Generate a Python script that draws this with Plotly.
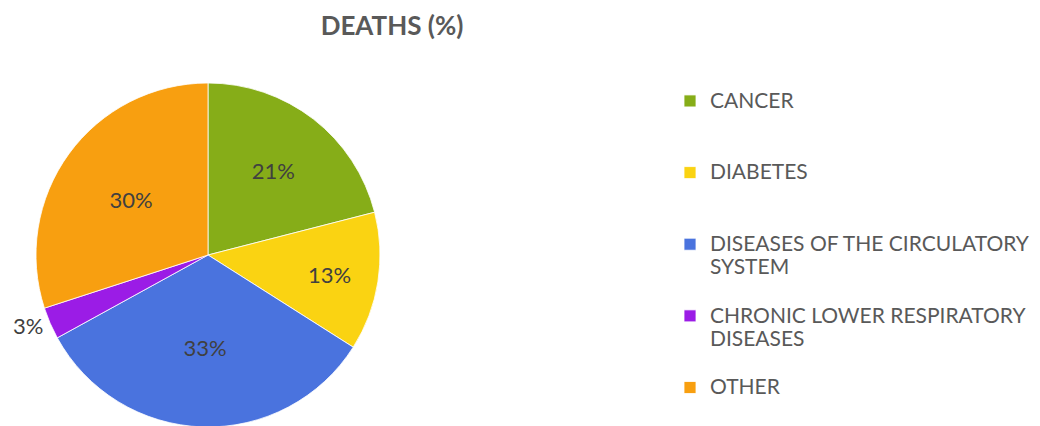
import plotly.graph_objects as go

categories = ["CANCER", "DIABETES", "DISEASES OF THE CIRCULATORY SYSTEM",
              "CHRONIC LOWER RESPIRATORY DISEASES", "OTHER"]
legend_labels = ["CANCER", "DIABETES", "DISEASES OF THE CIRCULATORY<br>SYSTEM",
                 "CHRONIC LOWER RESPIRATORY<br>DISEASES", "OTHER"]
values = [21, 13, 33, 3, 30]
colors = ["#86ad18", "#fad312", "#4a73de", "#9b1ce6", "#f89f10"]
text_positions = ["inside", "inside", "inside", "outside", "inside"]


def pad(lbl, last):
    n = lbl.count("<br>") + 1
    body = "<span style='font-size:21px'>" + lbl + "</span>"
    return body if last else body + "<br> " * (3 - n)


fig = go.Figure(go.Pie(
    labels=[pad(l, i == len(legend_labels) - 1) for i, l in enumerate(legend_labels)],
    values=values,
    sort=False,
    direction="clockwise",
    rotation=0,
    marker=dict(colors=colors, line=dict(color="white", width=0.8)),
    texttemplate="%{percent:.0%}",
    textposition=text_positions,
    insidetextorientation="horizontal",
    textfont=dict(family="Lato", size=22, color="#404040"),
    domain=dict(x=[28 / 1040, 372 / 1040], y=[0, 1]),
    hovertext=categories,
    hoverinfo="text+percent",
))

fig.update_layout(
    width=1040, height=426,
    margin=dict(l=0, r=0, t=75, b=7),
    paper_bgcolor="white",
    plot_bgcolor="white",
    title=dict(text="<b>DEATHS (%)</b>", x=384 / 1040, xanchor="center",
               yref="container", y=1 - 18 / 426, yanchor="middle",
               font=dict(family="Lato", size=26, color="#595959")),
    legend=dict(x=662 / 1040, xanchor="left", y=1.0, yanchor="top",
                yref="paper", xref="paper",
                font=dict(family="Lato", size=17.6, color="#595959"),
                valign="top", itemwidth=30, bgcolor="rgba(0,0,0,0)"),
    showlegend=True,
)

fig.write_html("out.html")
